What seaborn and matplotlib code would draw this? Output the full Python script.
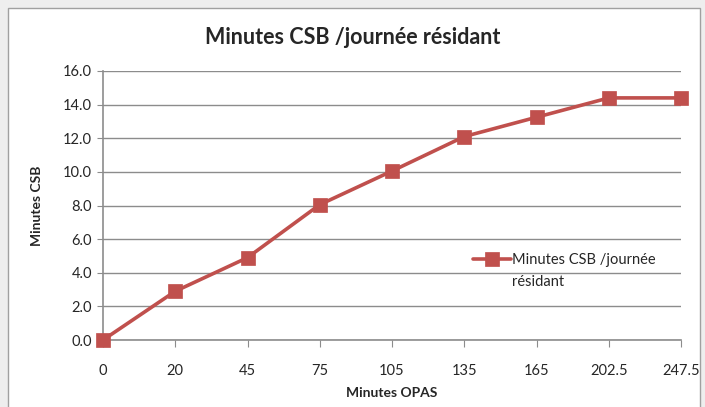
import seaborn as sns
import pandas as pd
import matplotlib.pyplot as plt
from matplotlib.patches import Rectangle

categories = ["0", "20", "45", "75", "105", "135", "165", "202.5", "247.5"]
minutes_csb = [0.0, 2.9, 4.9, 8.05, 10.05, 12.1, 13.25, 14.4, 14.4]
series_name = "Minutes CSB /journée"
series_name_cont = "résidant"

df = pd.DataFrame({"opas": categories, "csb": minutes_csb})

sns.set_style("white")
plt.rcParams['font.family'] = ['Lato', 'DejaVu Sans']

fig = plt.figure(figsize=(7.05, 4.07), dpi=100)
fig.patch.set_facecolor("#eeeeee")
fig.patches.append(Rectangle((8 / 705, -0.05), 692 / 705, 1 - 8 / 407 + 0.05,
                             transform=fig.transFigure, facecolor="white",
                             edgecolor="#a0a0a0", linewidth=1, zorder=-10))

ax = fig.add_axes([103 / 705, 1 - 340 / 407, 578 / 705, 269 / 407])
ax.set_facecolor("white")
sns.pointplot(data=df, x="opas", y="csb", ax=ax, color="#C0504D",
              markers="s", markersize=9, linewidth=2.6, label=series_name)
for line in ax.lines:
    line.set_clip_on(False)
    line.set_zorder(5)

ax.set_xlim(0, len(categories) - 1)
ax.set_ylim(0, 16)
ax.set_yticks(range(0, 17, 2))
ax.set_yticklabels([f"{v:.1f}" for v in range(0, 17, 2)])
ax.yaxis.grid(True, color="#8c8c8c", linewidth=1)
ax.set_axisbelow(True)
for side in ["top", "right"]:
    ax.spines[side].set_visible(False)
for side in ["left", "bottom"]:
    ax.spines[side].set_color("#8c8c8c")
    ax.spines[side].set_linewidth(1.2)
ax.tick_params(axis="x", direction="out", length=5, color="#8c8c8c",
               labelsize=10.5, pad=12, bottom=True)
ax.tick_params(axis="y", direction="out", length=4, color="#8c8c8c",
               labelsize=10.5, pad=4, left=True)

ax.set_xlabel("Minutes OPAS", fontsize=10, fontweight="bold", labelpad=7)
ax.set_ylabel("Minutes CSB", fontsize=10, fontweight="bold", labelpad=14)
fig.suptitle("Minutes CSB /journée résidant", fontsize=15.5, fontweight="bold",
             y=1 - 38 / 407, va="center")

# legend label wraps onto a second line in the original, with the key on line one
leg = ax.legend(loc="center left", bbox_to_anchor=(0.617, 0.297), frameon=False,
                fontsize=10.5, handlelength=2.6, handletextpad=0.1)
fig.canvas.draw()
x0 = leg.get_texts()[0].get_window_extent().x0
x_ax = ax.transAxes.inverted().transform((x0, 0))[0]
ax.text(x_ax, 0.2156, series_name_cont, transform=ax.transAxes,
        fontsize=10.5, va="center", ha="left", color="#262626")

fig.savefig("out.png", dpi=100, facecolor=fig.get_facecolor())
